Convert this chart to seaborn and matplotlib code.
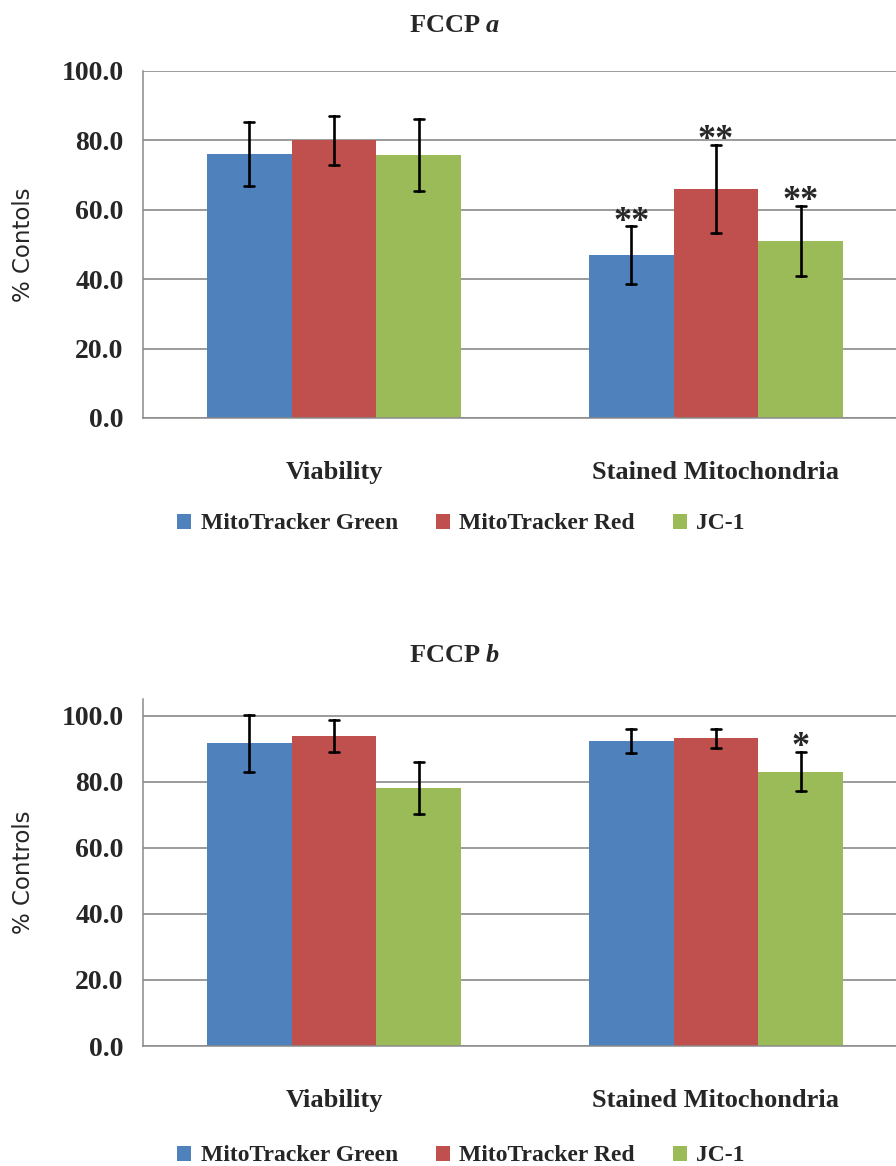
import numpy as np
import pandas as pd
import matplotlib
matplotlib.use("Agg")
import matplotlib.pyplot as plt
import seaborn as sns

categories = ["Viability", "Stained Mitochondria"]
series = ["MitoTracker Green", "MitoTracker Red", "JC-1"]
colors = ["#4F81BD", "#C0504D", "#9BBB59"]
yticks = [0, 20, 40, 60, 80, 100]

# Panel a (FCCP a)
a_green = [76.2, 46.9]
a_green_err = [9.2, 8.3]
a_red = [80.0, 65.9]
a_red_err = [7.0, 12.7]
a_jc1 = [75.8, 51.1]
a_jc1_err = [10.4, 10.1]
a_marks = [["", "**"], ["", "**"], ["", "**"]]

# Panel b (FCCP b)
b_green = [91.6, 92.3]
b_green_err = [8.7, 3.7]
b_red = [93.8, 93.1]
b_red_err = [4.9, 2.8]
b_jc1 = [78.0, 83.0]
b_jc1_err = [7.8, 5.9]
b_marks = [["", ""], ["", ""], ["", "*"]]

sns.set_theme(style="white")
plt.rcParams["font.family"] = ["Liberation Serif", "DejaVu Serif"]
plt.rcParams["font.weight"] = "bold"
plt.rcParams["mathtext.fontset"] = "custom"
plt.rcParams["mathtext.it"] = "Liberation Serif:italic:bold"
plt.rcParams["mathtext.rm"] = "Liberation Serif:bold"

W, H = 896, 1166
fig = plt.figure(figsize=(W / 100, H / 100), dpi=100)


def long_table(means, errs):
    rows = []
    for s, m_list, e_list in zip(series, means, errs):
        for c, m, e in zip(categories, m_list, e_list):
            rows.append({"category": c, "series": s, "value": m - e})
            rows.append({"category": c, "series": s, "value": m + e})
    return pd.DataFrame(rows)


def panel(rect, means, errs, marks, title, title_y, ylabel, ymax, leg_y):
    ax = fig.add_axes(rect)
    df = long_table(means, errs)
    sns.barplot(data=df, x="category", y="value", hue="series",
                order=categories, hue_order=series, palette=colors,
                estimator="mean", errorbar=lambda v: (v.min(), v.max()),
                capsize=0.08, err_kws={"color": "black", "linewidth": 1.9},
                width=0.665, saturation=1, linewidth=0, ax=ax)
    ax.set_xlim(-0.5, 1.5)
    ax.set_ylim(0, ymax)
    ax.set_yticks(yticks)
    ax.set_yticklabels([f"{t:.1f}" for t in yticks], fontsize=20, fontweight="bold")
    ax.set_xticks(range(len(categories)))
    ax.set_xticklabels(categories, fontsize=19, fontweight="bold")
    ax.set_xticks([-0.5, 0.5, 1.5], minor=True)
    ax.tick_params(axis="x", which="major", length=0, pad=31)
    ax.tick_params(axis="x", which="minor", length=7, width=1.0, color="#888888", direction="out")
    ax.tick_params(axis="y", length=6, width=1.1, color="#888888", direction="out", pad=8)
    ax.yaxis.grid(True, color="#8a8a8a", linewidth=1.2)
    ax.set_axisbelow(True)
    for s in ["top", "right"]:
        ax.spines[s].set_visible(False)
    for s in ["left", "bottom"]:
        ax.spines[s].set_color("#8a8a8a")
        ax.spines[s].set_linewidth(1.1)
    ax.set_xlabel("")
    ax.set_ylabel(ylabel, fontsize=16.5, family=["DejaVu Sans"], fontweight="normal")
    ax.yaxis.set_label_coords(-0.141, 0.5)

    # significance marks above the error bars
    for i, cont in enumerate(ax.containers[:len(series)]):
        for j, patch in enumerate(cont.patches):
            mk = marks[i][j]
            if mk:
                top = means[i][j] + errs[i][j]
                ax.annotate(mk, xy=(patch.get_x() + patch.get_width() / 2, top),
                            xytext=(0, -3), textcoords="offset points",
                            ha="center", va="baseline", fontsize=26,
                            fontweight="bold")

    sns.move_legend(ax, "center", bbox_to_anchor=(0.416, leg_y), ncol=3,
                    frameon=False, title=None, fontsize=17,
                    handlelength=0.6, handleheight=0.6, handletextpad=0.4,
                    columnspacing=1.6)
    fig.text(455 / W, title_y, title, ha="center", va="center",
             fontsize=19, fontweight="bold")
    return ax


panel([143 / W, 1 - 418 / H, 764 / W, 347 / H],
      [a_green, a_red, a_jc1], [a_green_err, a_red_err, a_jc1_err], a_marks,
      "FCCP $a$", 1 - 25 / H, "% Contols", 100, -0.305)

panel([143 / W, 1 - 1046 / H, 764 / W, 347 / H],
      [b_green, b_red, b_jc1], [b_green_err, b_red_err, b_jc1_err], b_marks,
      "FCCP $b$", 1 - 655 / H, "% Controls", 105, -0.317)

fig.savefig("out.png", dpi=100)
